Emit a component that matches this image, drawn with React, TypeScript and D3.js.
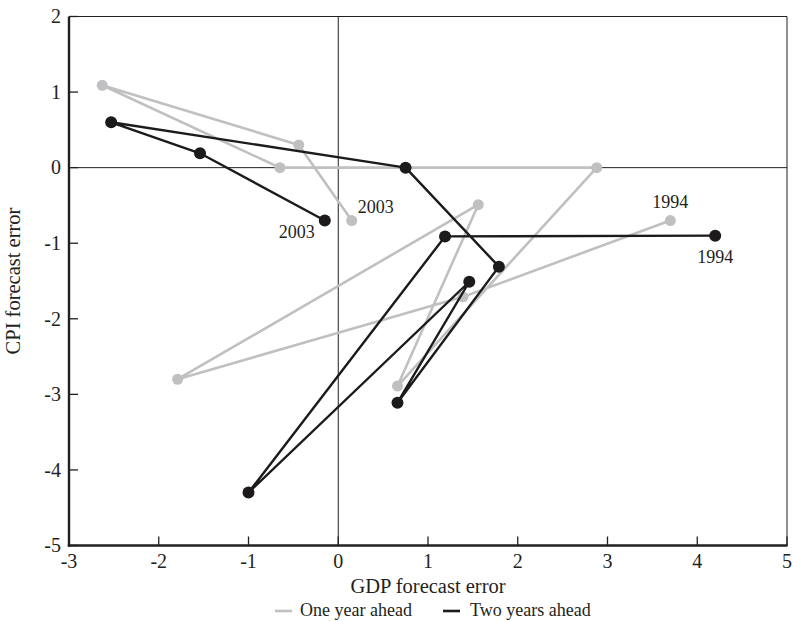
import React from "react";
import * as d3 from "d3";

// one year ahead forecast errors, 1994 -> 2003
const oneYearGdp = [3.7, 1.39, -1.79, 1.56, 0.66, 2.88, -0.65, -2.63, -0.44, 0.15];
const oneYearCpi = [-0.7, -1.71, -2.8, -0.49, -2.89, 0, 0, 1.09, 0.3, -0.7];

// two years ahead forecast errors, 1994 -> 2003
const twoYearGdp = [4.2, 1.19, -1.0, 1.46, 0.66, 1.79, 0.75, -2.53, -1.54, -0.15];
const twoYearCpi = [-0.9, -0.91, -4.3, -1.51, -3.11, -1.31, 0, 0.6, 0.19, -0.7];

const xTicks = [-3, -2, -1, 0, 1, 2, 3, 4, 5];
const yTicks = [-5, -4, -3, -2, -1, 0, 1, 2];

const W = 793;
const H = 621;
const margin = { top: 16.5, right: 6, bottom: 75.5, left: 69 };
const FONT = "'Liberation Serif', 'Times New Roman', serif";
const GRAY = "#c0c0c3";
const BLACK = "#1c1a1b";

export default function App() {
  const x = d3.scaleLinear().domain([-3, 5]).range([margin.left, W - margin.right]);
  const y = d3.scaleLinear().domain([-5, 2]).range([H - margin.bottom, margin.top]);

  const one = oneYearGdp.map((g, i) => [g, oneYearCpi[i]] as [number, number]);
  const two = twoYearGdp.map((g, i) => [g, twoYearCpi[i]] as [number, number]);

  const line = d3
    .line<[number, number]>()
    .x((d) => x(d[0]))
    .y((d) => y(d[1]));

  const x0 = x(-3);
  const x1 = x(5);
  const y0 = y(-5);
  const y1 = y(2);

  const label = (pt: [number, number], dx: number, dy: number, anchor: string) => (
    <text
      x={x(pt[0]) + dx}
      y={y(pt[1]) + dy}
      textAnchor={anchor}
      fontSize={18}
      fill="#231f20"
    >
      {pt === one[0] || pt === two[0] ? "1994" : "2003"}
    </text>
  );

  return (
    <div style={{ position: "absolute", left: 0, top: 0 }}>
      <svg width={W} height={H} fontFamily={FONT} style={{ display: "block", background: "#fff" }}>
        {/* frame: thin top/right, heavy left/bottom */}
        <line x1={x0} x2={x1} y1={y1} y2={y1} stroke="#231f20" strokeWidth={1} />
        <line x1={x1} x2={x1} y1={y1} y2={y0} stroke="#231f20" strokeWidth={1} />

        {/* zero reference lines */}
        <line x1={x0} x2={x1} y1={y(0)} y2={y(0)} stroke="#231f20" strokeWidth={1} />
        <line x1={x(0)} x2={x(0)} y1={y1} y2={y0} stroke="#231f20" strokeWidth={1} />

        {/* series */}
        <path d={line(one) ?? ""} fill="none" stroke={GRAY} strokeWidth={2.6} strokeLinejoin="round" />
        {one.map((d, i) => (
          <circle key={"o" + i} cx={x(d[0])} cy={y(d[1])} r={5.5} fill={GRAY} />
        ))}
        <path d={line(two) ?? ""} fill="none" stroke={BLACK} strokeWidth={2.4} strokeLinejoin="round" />
        {two.map((d, i) => (
          <circle key={"t" + i} cx={x(d[0])} cy={y(d[1])} r={6} fill={BLACK} />
        ))}

        {/* year labels */}
        {label(one[0], 0, -13, "middle")}
        {label(two[0], 0, 27, "middle")}
        {label(one[9], 6, -8, "start")}
        {label(two[9], -10, 17, "end")}

        {/* axes */}
        <line x1={x0} x2={x0} y1={y1} y2={y0 + 1.2} stroke="#231f20" strokeWidth={2.4} />
        <line x1={x0 - 1.2} x2={x1 + 0.5} y1={y0} y2={y0} stroke="#231f20" strokeWidth={2.4} />

        {yTicks.map((t) => (
          <g key={"y" + t}>
            <line x1={x0} x2={x0 + 9} y1={y(t)} y2={y(t)} stroke="#231f20" strokeWidth={1.3} />
            <text x={x0 - 8} y={y(t)} dy="0.34em" textAnchor="end" fontSize={20} fill="#231f20">
              {t}
            </text>
          </g>
        ))}
        {xTicks.map((t) => (
          <g key={"x" + t}>
            <line x1={x(t)} x2={x(t)} y1={y0} y2={y0 - 9} stroke="#231f20" strokeWidth={1.3} />
            <text x={x(t)} y={y0 + 22} textAnchor="middle" fontSize={20} fill="#231f20">
              {t}
            </text>
          </g>
        ))}

        {/* axis titles */}
        <text x={(x0 + x1) / 2} y={593} textAnchor="middle" fontSize={20.5} fill="#231f20">
          GDP forecast error
        </text>
        <text
          transform={`translate(20,${(y0 + y1) / 2}) rotate(-90)`}
          textAnchor="middle"
          fontSize={20.5}
          fill="#231f20"
        >
          CPI forecast error
        </text>

        {/* legend */}
        <line x1={275} x2={292} y1={611} y2={611} stroke={GRAY} strokeWidth={2.6} />
        <text x={300} y={616} fontSize={18} fill="#231f20">One year ahead</text>
        <line x1={443} x2={460} y1={611} y2={611} stroke={BLACK} strokeWidth={2.6} />
        <text x={470} y={616} fontSize={18} fill="#231f20">Two years ahead</text>
      </svg>
    </div>
  );
}
